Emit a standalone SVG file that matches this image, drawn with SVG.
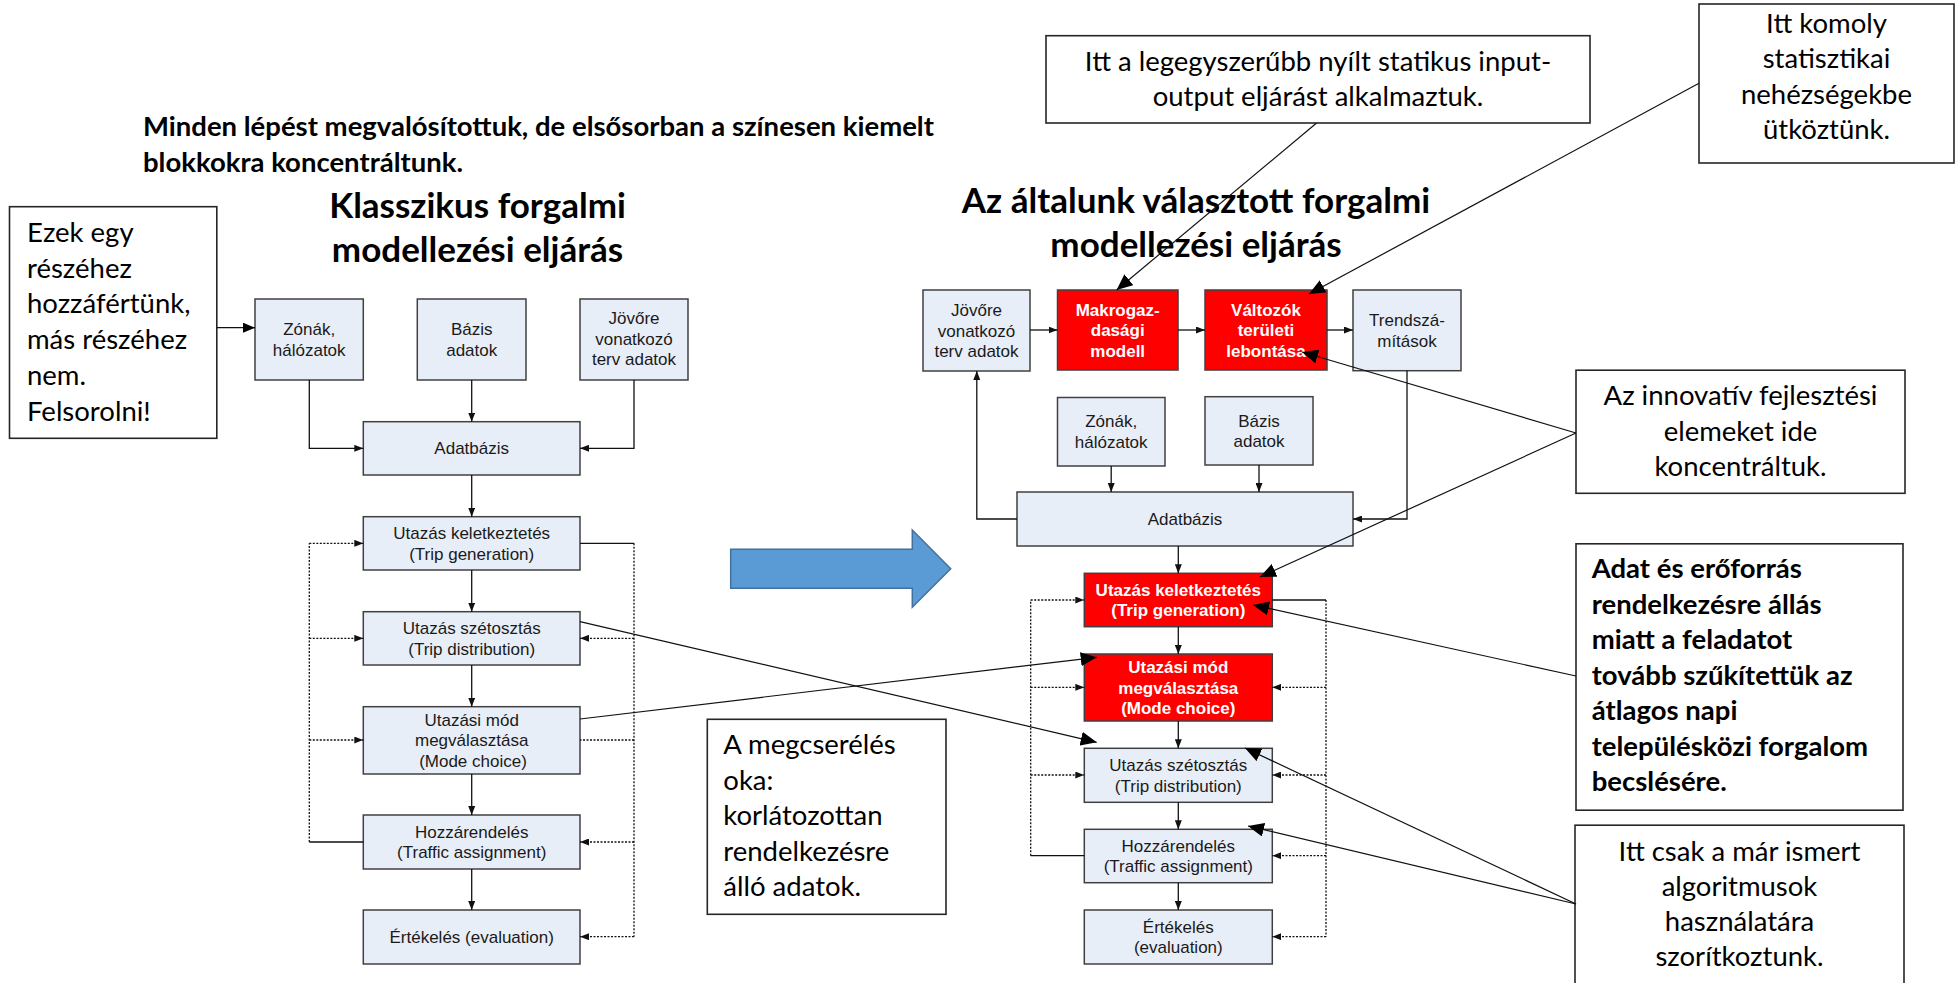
<svg xmlns="http://www.w3.org/2000/svg" width="1959" height="983" viewBox="0 0 1959 983">
  <style>
    .box { fill: #E8EEF8; stroke: #404040; stroke-width: 1.5; }
    .red { fill: #FF0000; stroke: #404040; stroke-width: 1.5; }
    .note { fill: #FFFFFF; stroke: #262626; stroke-width: 1.6; }
    .t { font-family: "Liberation Sans", Arial, sans-serif; font-size: 17px; fill: #1a1a1a; text-anchor: middle; }
    .tw { font-family: "Liberation Sans", Arial, sans-serif; font-size: 17px; font-weight: bold; fill: #FFFFFF; text-anchor: middle; }
    .c { font-family: Lato, "Open Sans", sans-serif; font-size: 27.5px; fill: #000; }
    .cm { text-anchor: middle; }
    .cb { font-weight: bold; }
    .title { font-family: Lato, "Open Sans", sans-serif; font-size: 35px; font-weight: bold; fill: #000; text-anchor: middle; }
    .ln { fill: none; stroke: #111; stroke-width: 1.3; }
    .dot { fill: none; stroke: #111; stroke-width: 1.3; stroke-dasharray: 2 1.5; }
    .call { fill: none; stroke: #111; stroke-width: 1.2; }
  </style>
  <defs>
    <marker id="a-sm" markerUnits="userSpaceOnUse" markerWidth="9" markerHeight="7" refX="9" refY="3.5" orient="auto">
      <path d="M0,0 L9,3.5 L0,7 z" fill="#111"/>
    </marker>
    <marker id="a-md" markerUnits="userSpaceOnUse" markerWidth="12" markerHeight="10" refX="12" refY="5" orient="auto">
      <path d="M0,0 L12,5 L0,10 z" fill="#000"/>
    </marker>
    <marker id="a-lg" markerUnits="userSpaceOnUse" markerWidth="16" markerHeight="14" refX="16" refY="7" orient="auto">
      <path d="M0,0 L16,7 L0,14 z" fill="#000"/>
    </marker>
  </defs>

  <rect width="1959" height="983" fill="#FFFFFF"/>

  <!-- heading -->
  <g id="heading">
    <text class="c cb" x="143" y="136">Minden lépést megvalósítottuk, de elsősorban a színesen kiemelt</text>
    <text class="c cb" x="143" y="172">blokkokra koncentráltunk.</text>
  </g>

  <!-- titles -->
  <g id="title-classic">
    <text class="title" x="477.5" y="218">Klasszikus forgalmi</text>
    <text class="title" x="477.5" y="262">modellezési eljárás</text>
  </g>
  <g id="title-chosen">
    <text class="title" x="1196" y="213">Az általunk választott forgalmi</text>
    <text class="title" x="1196" y="257">modellezési eljárás</text>
  </g>

  <!-- classic procedure nodes -->
  <g id="c-zonak">
    <rect class="box" x="255" y="299" width="108.3" height="81"/>
    <text class="t" x="309.2" y="335">Zónák,</text>
    <text class="t" x="309.2" y="355.5">hálózatok</text>
  </g>
  <g id="c-bazis">
    <rect class="box" x="417.3" y="299" width="108.7" height="81"/>
    <text class="t" x="471.7" y="335">Bázis</text>
    <text class="t" x="471.7" y="355.5">adatok</text>
  </g>
  <g id="c-jovore">
    <rect class="box" x="580" y="299" width="108" height="81"/>
    <text class="t" x="634" y="324">Jövőre</text>
    <text class="t" x="634" y="344.5">vonatkozó</text>
    <text class="t" x="634" y="365">terv adatok</text>
  </g>
  <g id="c-adatbazis">
    <rect class="box" x="363.3" y="421.7" width="216.7" height="53.3"/>
    <text class="t" x="471.7" y="454.3">Adatbázis</text>
  </g>
  <g id="c-keletkeztetes">
    <rect class="box" x="363.3" y="516.7" width="216.7" height="53.3"/>
    <text class="t" x="471.7" y="539">Utazás keletkeztetés</text>
    <text class="t" x="471.7" y="559.6">(Trip generation)</text>
  </g>
  <g id="c-szetosztas">
    <rect class="box" x="363.3" y="611.7" width="216.7" height="53.3"/>
    <text class="t" x="471.7" y="634">Utazás szétosztás</text>
    <text class="t" x="471.7" y="654.6">(Trip distribution)</text>
  </g>
  <g id="c-mod">
    <rect class="box" x="363.3" y="706.7" width="216.7" height="67.3"/>
    <text class="t" x="471.7" y="725.7">Utazási mód</text>
    <text class="t" x="471.7" y="746.3">megválasztása</text>
    <text class="t" x="473" y="766.9">(Mode choice)</text>
  </g>
  <g id="c-hozzarendeles">
    <rect class="box" x="363.3" y="815" width="216.7" height="54"/>
    <text class="t" x="471.7" y="837.7">Hozzárendelés</text>
    <text class="t" x="471.7" y="858.3">(Traffic assignment)</text>
  </g>
  <g id="c-ertekeles">
    <rect class="box" x="363.3" y="910" width="216.7" height="54"/>
    <text class="t" x="471.7" y="943">Értékelés (evaluation)</text>
  </g>

  <!-- chosen procedure nodes -->
  <g id="n-jovore">
    <rect class="box" x="923" y="290" width="107" height="81"/>
    <text class="t" x="976.5" y="316">Jövőre</text>
    <text class="t" x="976.5" y="336.5">vonatkozó</text>
    <text class="t" x="976.5" y="357">terv adatok</text>
  </g>
  <g id="n-makro">
    <rect class="red" x="1057.5" y="290" width="120.5" height="80"/>
    <text class="tw" x="1117.7" y="315.5">Makrogaz-</text>
    <text class="tw" x="1117.7" y="336">dasági</text>
    <text class="tw" x="1117.7" y="356.5">modell</text>
  </g>
  <g id="n-valtozok">
    <rect class="red" x="1205" y="290" width="122" height="80"/>
    <text class="tw" x="1266" y="315.5">Változók</text>
    <text class="tw" x="1266" y="336">területi</text>
    <text class="tw" x="1266" y="356.5">lebontása</text>
  </g>
  <g id="n-trend">
    <rect class="box" x="1353" y="290" width="108" height="80.7"/>
    <text class="t" x="1407" y="326">Trendszá-</text>
    <text class="t" x="1407" y="346.6">mítások</text>
  </g>
  <g id="n-zonak">
    <rect class="box" x="1057.5" y="397.5" width="107.5" height="68.5"/>
    <text class="t" x="1111.2" y="427.4">Zónák,</text>
    <text class="t" x="1111.2" y="448">hálózatok</text>
  </g>
  <g id="n-bazis">
    <rect class="box" x="1205" y="396.7" width="108" height="68.3"/>
    <text class="t" x="1259" y="426.5">Bázis</text>
    <text class="t" x="1259" y="447">adatok</text>
  </g>
  <g id="n-adatbazis">
    <rect class="box" x="1017" y="492" width="336" height="54"/>
    <text class="t" x="1185" y="525">Adatbázis</text>
  </g>
  <g id="n-keletkeztetes">
    <rect class="red" x="1084.3" y="573.3" width="188" height="53.4"/>
    <text class="tw" x="1178.3" y="595.7">Utazás keletkeztetés</text>
    <text class="tw" x="1178.3" y="616.3">(Trip generation)</text>
  </g>
  <g id="n-mod">
    <rect class="red" x="1084.3" y="654" width="188" height="67"/>
    <text class="tw" x="1178.3" y="673.2">Utazási mód</text>
    <text class="tw" x="1178.3" y="693.8">megválasztása</text>
    <text class="tw" x="1178.3" y="714.4">(Mode choice)</text>
  </g>
  <g id="n-szetosztas">
    <rect class="box" x="1084.3" y="748.3" width="188" height="54"/>
    <text class="t" x="1178.3" y="771">Utazás szétosztás</text>
    <text class="t" x="1178.3" y="791.6">(Trip distribution)</text>
  </g>
  <g id="n-hozzarendeles">
    <rect class="box" x="1084.3" y="829.3" width="188" height="53.4"/>
    <text class="t" x="1178.3" y="851.7">Hozzárendelés</text>
    <text class="t" x="1178.3" y="872.3">(Traffic assignment)</text>
  </g>
  <g id="n-ertekeles">
    <rect class="box" x="1084.3" y="910" width="188" height="54"/>
    <text class="t" x="1178.3" y="932.7">Értékelés</text>
    <text class="t" x="1178.3" y="953.3">(evaluation)</text>
  </g>

  <!-- transition arrow -->
  <g id="shift-arrow">
    <path d="M730.7,549.3 H912.3 V530 L950.7,568.8 L912.3,607.3 V588.3 H730.7 z" fill="#5B9BD5" stroke="#41719C" stroke-width="1.5"/>
  </g>

  <!-- notes -->
  <g id="note-access">
    <rect class="note" x="9.5" y="206.7" width="207.3" height="231.6"/>
    <text class="c" x="27" y="242">Ezek egy</text>
    <text class="c" x="27" y="277.7">részéhez</text>
    <text class="c" x="27" y="313.4">hozzáfértünk,</text>
    <text class="c" x="27" y="349.1">más részéhez</text>
    <text class="c" x="27" y="384.8">nem.</text>
    <text class="c" x="27" y="420.5">Felsorolni!</text>
  </g>
  <g id="note-swap">
    <rect class="note" x="707.3" y="719.3" width="238.7" height="195"/>
    <text class="c" x="723.3" y="754">A megcserélés</text>
    <text class="c" x="723.3" y="789.5">oka:</text>
    <text class="c" x="723.3" y="825">korlátozottan</text>
    <text class="c" x="723.3" y="860.5">rendelkezésre</text>
    <text class="c" x="723.3" y="896">álló adatok.</text>
  </g>
  <g id="note-io">
    <rect class="note" x="1046" y="35.7" width="544" height="87.3"/>
    <text class="c cm" x="1318" y="70.7">Itt a legegyszerűbb nyílt statikus input-</text>
    <text class="c cm" x="1318" y="106">output eljárást alkalmaztuk.</text>
  </g>
  <g id="note-stat">
    <rect class="note" x="1699" y="4" width="255" height="159"/>
    <text class="c cm" x="1826.5" y="33">Itt komoly</text>
    <text class="c cm" x="1826.5" y="68.3">statisztikai</text>
    <text class="c cm" x="1826.5" y="103.6">nehézségekbe</text>
    <text class="c cm" x="1826.5" y="139">ütköztünk.</text>
  </g>
  <g id="note-innov">
    <rect class="note" x="1576" y="370.2" width="329" height="123.1"/>
    <text class="c cm" x="1740.5" y="404.5">Az innovatív fejlesztési</text>
    <text class="c cm" x="1740.5" y="440.5">elemeket ide</text>
    <text class="c cm" x="1740.5" y="476">koncentráltuk.</text>
  </g>
  <g id="note-scope">
    <rect class="note" x="1576" y="543.8" width="327" height="266.4"/>
    <text class="c cb" x="1591.7" y="578">Adat és erőforrás</text>
    <text class="c cb" x="1591.7" y="613.5">rendelkezésre állás</text>
    <text class="c cb" x="1591.7" y="649">miatt a feladatot</text>
    <text class="c cb" x="1591.7" y="684.5">tovább szűkítettük az</text>
    <text class="c cb" x="1591.7" y="720">átlagos napi</text>
    <text class="c cb" x="1591.7" y="755.5">településközi forgalom</text>
    <text class="c cb" x="1591.7" y="791">becslésére.</text>
  </g>
  <g id="note-known">
    <rect class="note" x="1575" y="825.2" width="329" height="170"/>
    <text class="c cm" x="1739.5" y="861">Itt csak a már ismert</text>
    <text class="c cm" x="1739.5" y="896">algoritmusok</text>
    <text class="c cm" x="1739.5" y="931">használatára</text>
    <text class="c cm" x="1739.5" y="966">szorítkoztunk.</text>
  </g>

  <!-- connectors, drawn last so pointer heads sit on top of the boxes -->
  <g id="connectors">
    <!-- classic chain -->
    <path class="ln" d="M309.3,380 V448.3 H363.3" marker-end="url(#a-sm)"/>
    <path class="ln" d="M471.7,380 V421.7" marker-end="url(#a-sm)"/>
    <path class="ln" d="M634,380 V448.3 H580" marker-end="url(#a-sm)"/>
    <path class="ln" d="M471.7,475 V516.7" marker-end="url(#a-sm)"/>
    <path class="ln" d="M471.7,570 V611.7" marker-end="url(#a-sm)"/>
    <path class="ln" d="M471.7,665 V706.7" marker-end="url(#a-sm)"/>
    <path class="ln" d="M471.7,774 V815" marker-end="url(#a-sm)"/>
    <path class="ln" d="M471.7,869 V910" marker-end="url(#a-sm)"/>
    <!-- classic feedback loops -->
    <path class="ln" d="M363.3,842 H309.3"/>
    <path class="dot" d="M309.3,842 V543.3"/>
    <path class="dot" d="M309.3,543.3 H363.3" marker-end="url(#a-sm)"/>
    <path class="dot" d="M309.3,638.3 H363.3" marker-end="url(#a-sm)"/>
    <path class="dot" d="M309.3,740 H363.3" marker-end="url(#a-sm)"/>
    <path class="ln" d="M580,543.3 H634"/>
    <path class="dot" d="M634,543.3 V936.7"/>
    <path class="dot" d="M634,638.3 H580" marker-end="url(#a-sm)"/>
    <path class="dot" d="M634,740 H580"/>
    <path class="dot" d="M634,842 H580" marker-end="url(#a-sm)"/>
    <path class="dot" d="M634,936.7 H580" marker-end="url(#a-sm)"/>

    <!-- chosen procedure: top row -->
    <path class="ln" d="M1030,330 H1057.5" marker-end="url(#a-sm)"/>
    <path class="ln" d="M1178,330 H1205" marker-end="url(#a-sm)"/>
    <path class="ln" d="M1327,330 H1353" marker-end="url(#a-sm)"/>
    <path class="ln" d="M1017,519 H976.8 V371" marker-end="url(#a-sm)"/>
    <path class="ln" d="M1407,370.7 V519 H1353" marker-end="url(#a-sm)"/>
    <path class="ln" d="M1111.2,466 V492" marker-end="url(#a-sm)"/>
    <path class="ln" d="M1259,465 V492" marker-end="url(#a-sm)"/>
    <!-- chosen procedure: chain -->
    <path class="ln" d="M1178.3,546 V573.3" marker-end="url(#a-sm)"/>
    <path class="ln" d="M1178.3,626.7 V654" marker-end="url(#a-sm)"/>
    <path class="ln" d="M1178.3,721 V748.3" marker-end="url(#a-sm)"/>
    <path class="ln" d="M1178.3,802.3 V829.3" marker-end="url(#a-sm)"/>
    <path class="ln" d="M1178.3,882.7 V910" marker-end="url(#a-sm)"/>
    <!-- chosen procedure: feedback loops -->
    <path class="ln" d="M1084.3,855.7 H1030.7"/>
    <path class="dot" d="M1030.7,855.7 V600"/>
    <path class="dot" d="M1030.7,600 H1084.3" marker-end="url(#a-sm)"/>
    <path class="dot" d="M1030.7,687.3 H1084.3" marker-end="url(#a-sm)"/>
    <path class="dot" d="M1030.7,775 H1084.3" marker-end="url(#a-sm)"/>
    <path class="ln" d="M1272.3,600 H1326" stroke-width="2"/>
    <path class="dot" d="M1326,600 V936.7"/>
    <path class="dot" d="M1326,687.3 H1272.3" marker-end="url(#a-sm)"/>
    <path class="dot" d="M1326,775 H1272.3" marker-end="url(#a-sm)"/>
    <path class="dot" d="M1326,855.7 H1272.3" marker-end="url(#a-sm)"/>
    <path class="dot" d="M1326,936.7 H1272.3" marker-end="url(#a-sm)"/>

    <!-- swap lines between the two procedures -->
    <path class="call" d="M580,621.7 L1096.7,742.3" marker-end="url(#a-lg)"/>
    <path class="call" d="M580,719 L1096.7,657.3" marker-end="url(#a-lg)"/>

    <!-- callout pointers -->
    <path class="call" d="M216.8,327.7 H255" marker-end="url(#a-md)"/>
    <path class="call" d="M1316.6,123 L1116.6,290" marker-end="url(#a-lg)"/>
    <path class="call" d="M1699,83.3 L1309,294" marker-end="url(#a-lg)"/>
    <path class="call" d="M1576,433 L1302,352" marker-end="url(#a-lg)"/>
    <path class="call" d="M1576,433 L1260,577" marker-end="url(#a-lg)"/>
    <path class="call" d="M1576,676 L1253,605" marker-end="url(#a-lg)"/>
    <path class="call" d="M1576,904 L1245,748" marker-end="url(#a-lg)"/>
    <path class="call" d="M1576,904 L1248,826" marker-end="url(#a-lg)"/>
  </g>
</svg>
